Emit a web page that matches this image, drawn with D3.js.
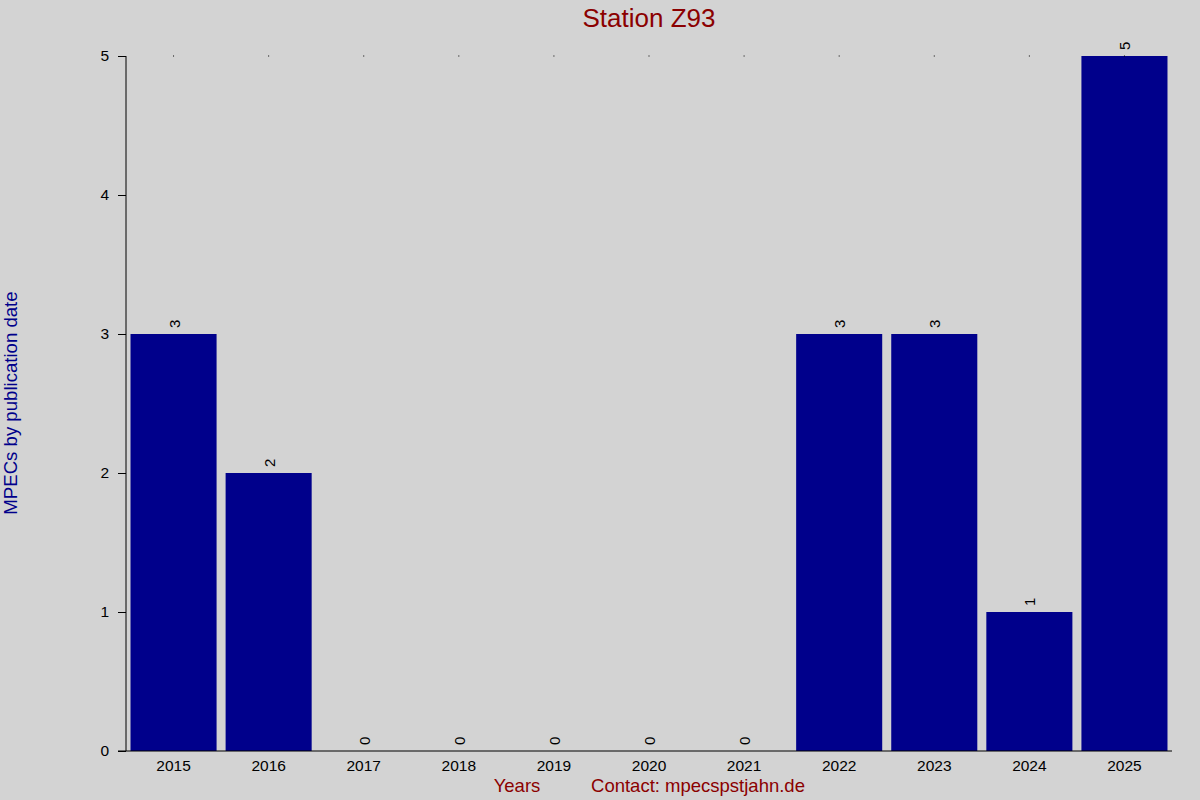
<!DOCTYPE html>
<html><head><meta charset="utf-8">
<script src="https://cdn.jsdelivr.net/npm/d3@7"></script>
<style>body{margin:0;background:#d3d3d3;} svg{display:block;font-family:"Liberation Sans",Arial,sans-serif;}</style>
</head><body>
<svg id="c" width="1200" height="800"></svg>
<script>
const years = ["2015","2016","2017","2018","2019","2020","2021","2022","2023","2024","2025"];
const counts = [3,2,0,0,0,0,0,3,3,1,5];
const yTicks = [0,1,2,3,4,5];
const titleText = "Station Z93";
const yLabel = "MPECs by publication date";
const xLabel = "Years";
const contactText = "Contact: mpecspstjahn.de";

const svg = d3.select("#c");
svg.append("rect").attr("width",1200).attr("height",800).attr("fill","#d3d3d3");
const pLeft = 126, pRight = 1172, pTop = 56, pBottom = 751;
const x = d3.scaleBand().domain(years).range([pLeft, pRight]).paddingInner(0.095).paddingOuter(0.0475);
const y = d3.scaleLinear().domain([0,5]).range([pBottom, pTop]);

svg.selectAll("rect.bar").data(years).enter().append("rect")
  .attr("class","bar")
  .attr("x", d => x(d))
  .attr("width", x.bandwidth())
  .attr("y", (d,i) => y(counts[i]))
  .attr("height", (d,i) => y(0) - y(counts[i]))
  .attr("fill", "#00008b");

// dots at top
svg.selectAll("rect.dot").data(years).enter().append("rect")
  .attr("class","dot")
  .attr("x", d => x(d) + x.bandwidth()/2 - 0.5)
  .attr("y", y(5) - 0.5).attr("width",1).attr("height",1).attr("fill","#000");

// value labels
svg.selectAll("text.val").data(years).enter().append("text")
  .attr("class","val")
  .attr("transform", (d,i) => `translate(${x(d)+x.bandwidth()/2+6},${y(counts[i])-6}) rotate(-90)`)
  .attr("font-size", 15).attr("fill","#000").attr("text-anchor","start")
  .text((d,i) => counts[i]);

// y axis
const yAxis = d3.axisLeft(y).tickValues(yTicks).tickSize(8).tickPadding(9).tickFormat(d3.format("d"));
const gy = svg.append("g").attr("transform",`translate(${pLeft},0)`).call(yAxis);
gy.select(".domain").attr("d", `M0,${pTop}V${pBottom}`).attr("stroke","#000");
gy.selectAll("text").attr("font-size",15.5).attr("font-family","Liberation Sans, Arial, sans-serif").attr("fill","#000");

// x axis
const xAxis = d3.axisBottom(x).tickSize(0).tickPadding(8);
const gx = svg.append("g").attr("transform",`translate(0,${pBottom})`).call(xAxis);
gx.select(".domain").attr("d", `M${pLeft-8},0H${pRight}`).attr("stroke","#000");
gx.selectAll("text").attr("font-size",15.5).attr("font-family","Liberation Sans, Arial, sans-serif").attr("fill","#000").attr("dy","0.8em");

svg.append("text").attr("x",649).attr("y",27).attr("text-anchor","middle")
  .attr("font-size",26).attr("fill","#8b0000").text(titleText);
svg.append("text").attr("transform","translate(17,403) rotate(-90)").attr("text-anchor","middle")
  .attr("font-size",18.6).attr("fill","#00008b").text(yLabel);
svg.append("text").attr("x",517).attr("y",792).attr("text-anchor","middle")
  .attr("font-size",18.5).attr("fill","#8b0000").text(xLabel);
svg.append("text").attr("x",698).attr("y",792).attr("text-anchor","middle")
  .attr("font-size",18.5).attr("fill","#8b0000").text(contactText);
</script>
</body></html>
